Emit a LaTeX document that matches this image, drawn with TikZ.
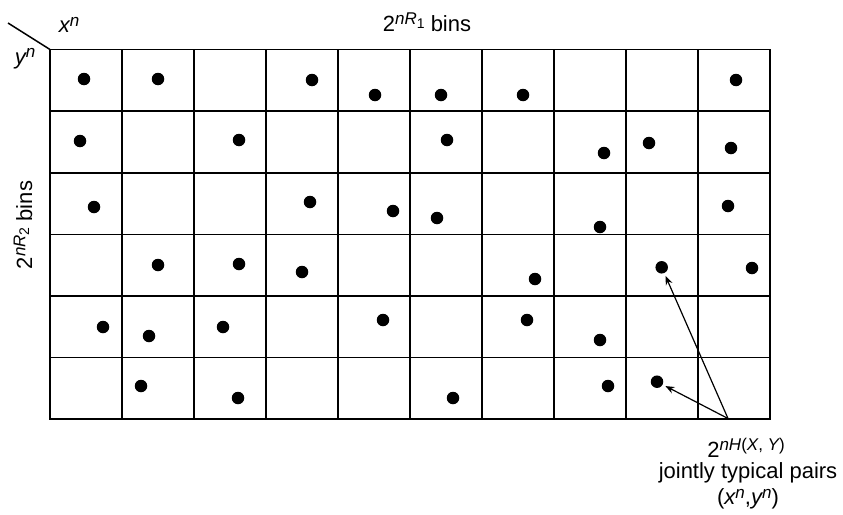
\documentclass[tikz,border=0pt]{standalone}
\usepackage{fontspec}
\setmainfont{Liberation Sans}
\usetikzlibrary{arrows.meta}
\newcommand{\supr}[1]{\raisebox{0.3em}{\fontsize{17}{17}\selectfont #1}}
\newcommand{\subr}[1]{\raisebox{-0.22em}{\fontsize{14}{14}\selectfont #1}}
\begin{document}
\begin{tikzpicture}[x=1pt,y=-1pt,
  dot/.style={circle,fill=black,inner sep=0pt,minimum size=12.5pt},
  lbl/.style={inner sep=0pt,font=\fontsize{22}{26}\selectfont},
  gridline/.style={line width=1.6pt},
  ptr/.style={line width=1.2pt,shorten >=3pt,-{Stealth[length=9pt,width=7pt]}}]
\useasboundingbox (0,0) rectangle (843,514);
% grid
\foreach \i in {0,...,10} {
  \draw[gridline] ({50+72*\i},49.5) -- ({50+72*\i},419.1);
}
\foreach \j in {0,...,6} {
  \draw[gridline] (49.2,{49.5+61.6*\j}) -- (770.8,{49.5+61.6*\j});
}
\coordinate (corner) at (50,49.5);
\coordinate (tail) at (8,23);
\draw[line width=1.5pt] (tail) -- (corner);
% labels
\node[lbl] (xn) at (69,25) {\itshape x\supr{n}};
\node[lbl] (yn) at (25,59) {\itshape y\supr{n}};
\node[lbl] (r1) at (427,22) {2\supr{\itshape nR\subr{\upshape 1}} bins};
\node[lbl,rotate=90] (r2) at (23,225) {2\supr{\itshape nR\subr{\upshape 2}} bins};
\node[lbl] (h) at (746,448) {2\supr{\itshape nH\upshape(\itshape X\upshape, \itshape Y\upshape)}};
\node[lbl] (jt) at (748,473) {jointly typical pairs};
\node[lbl] (pr) at (748,499) {(\itshape x\supr{n}\upshape,\itshape y\supr{n}\upshape)};
% dots
\foreach \n/\x/\y in {
 a1/84/79, a2/158/79, a3/312/80, a4/375/95, a5/441/95, a6/523/95, a7/736/80,
 b1/80/141, b2/239/140, b3/447/140, b4/604/153, b5/649/143, b6/731/148,
 c1/94/207, c2/310/202, c3/393/211, c4/437/218, c5/600/227, c6/728/206,
 d1/158/265, d2/239/264, d3/302/272, d4/535/279, d5/661.7/267.3, d6/752/268,
 e1/103/327, e2/149/336, e3/223/327, e4/383/320, e5/527/320, e6/600/340,
 f1/141/386, f2/238/398, f3/453/398, f4/608/386, f5/657/381.7} {
  \node[dot] (\n) at (\x,\y) {};
}
\coordinate (src) at (728,418.5);
\draw[ptr] (src) -- (d5);
\draw[ptr] (src) -- (f5);
\end{tikzpicture}
\end{document}
